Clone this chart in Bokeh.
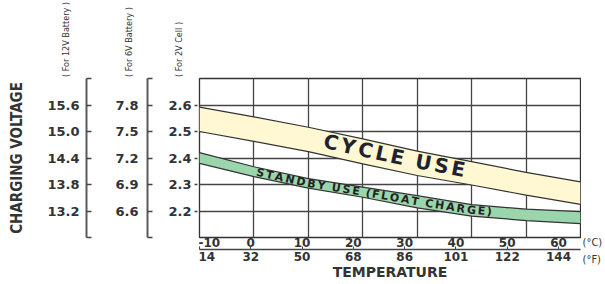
import numpy as np
from bokeh.plotting import figure
from bokeh.models import (Range1d, LinearAxis, FixedTicker, PrintfTickFormatter,
                          Grid, Label)
from bokeh.layouts import row, column
from bokeh.embed import file_html
from bokeh.resources import INLINE
from bokeh.core.properties import value

# ---------------- data ----------------
temps_c = [-10, 0, 10, 20, 30, 40, 50, 60]
temps_c_labels = ["-10", "0", "10", "20", "30", "40", "50", "60"]
temps_f_labels = ["14", "32", "50", "68", "86", "101", "122", "144"]
cycle_upper = [2.592, 2.555, 2.516, 2.472, 2.426, 2.386, 2.346, 2.310]
cycle_lower = [2.500, 2.463, 2.424, 2.378, 2.334, 2.298, 2.260, 2.225]
standby_upper = [2.420, 2.367, 2.322, 2.290, 2.258, 2.224, 2.207, 2.198]
standby_lower = [2.380, 2.330, 2.286, 2.252, 2.212, 2.181, 2.164, 2.152]
volt_2v_ticks = [2.2, 2.3, 2.4, 2.5, 2.6]
volt_6v_ticks = [6.3, 6.6, 6.9, 7.2, 7.5, 7.8, 8.1]
volt_12v_ticks = [12.6, 13.2, 13.8, 14.4, 15.0, 15.6, 16.2]
cycle_text = "CYCLE USE"
standby_text = "STANDBY USE (FLOAT CHARGE)"
side_titles = ["( For 12V Battery )", "( For 6V Battery )", "( For 2V Cell )"]

# ---------------- layout ----------------
H = 284
TOP_H = 77                      # height of the strip holding the side titles
FRAME_TOP, FRAME_H = 78, 159
BOTTOM = H - FRAME_TOP - FRAME_H
SIDE_H = H - TOP_H
NUM_FONT = "DejaVu Sans"
NARROW = "DejaVu Sans Condensed"
TXT = "#333333"
COMMON = dict(toolbar_location=None, output_backend="svg",
              background_fill_color="white", border_fill_color="white")


def side_fig(width, left, yr):
    f = figure(width=width, height=SIDE_H, x_range=Range1d(0, width - left), y_range=yr,
               x_axis_type=None, y_axis_type=None, min_border_left=left,
               min_border_right=0, min_border_top=FRAME_TOP - TOP_H,
               min_border_bottom=BOTTOM, **COMMON)
    f.outline_line_color = None
    return f


def num_axis(ticks, **kw):
    base = dict(ticker=FixedTicker(ticks=ticks),
                formatter=PrintfTickFormatter(format="%.1f"),
                minor_tick_line_color=None, major_tick_line_color="#444444",
                major_tick_line_width=1.5, major_label_text_font=NUM_FONT,
                major_label_text_font_style="bold", major_label_text_font_size="13px",
                major_label_text_color=TXT)
    base.update(kw)
    return LinearAxis(**base)


# 12V axis
f1 = side_fig(97, 86, Range1d(volt_12v_ticks[0], volt_12v_ticks[-1]))
f1.add_layout(num_axis(volt_12v_ticks,
                       major_label_overrides={volt_12v_ticks[0]: "", volt_12v_ticks[-1]: ""},
                       axis_line_width=2, axis_line_color="#5a5a5a", major_tick_in=5,
                       major_tick_out=0, major_label_standoff=7,
                       axis_label="CHARGING VOLTAGE", axis_label_text_font=NARROW,
                       axis_label_text_font_style="bold", axis_label_text_font_size="15px",
                       axis_label_standoff=18, axis_label_text_color=TXT), "left")

# 6V axis
f2 = side_fig(60, 50, Range1d(volt_6v_ticks[0], volt_6v_ticks[-1]))
f2.add_layout(num_axis(volt_6v_ticks,
                       major_label_overrides={volt_6v_ticks[0]: "", volt_6v_ticks[-1]: ""},
                       axis_line_width=2, axis_line_color="#5a5a5a", major_tick_in=5,
                       major_tick_out=0, major_label_standoff=9), "left")

# 2V axis (its line is the chart frame's left edge)
f3 = side_fig(41, 40, Range1d(2.1, 2.7))
f3.add_layout(num_axis(volt_2v_ticks, axis_line_color=None, major_tick_out=3,
                       major_tick_in=0, major_label_standoff=3), "left")

# side titles strip
ft = figure(width=198, height=TOP_H, x_range=Range1d(0, 198), y_range=Range1d(0, TOP_H),
            x_axis_type=None, y_axis_type=None, min_border=0, **COMMON)
ft.outline_line_color = None
ft.frame_align = False
for txt, cx in zip(side_titles, [65, 128, 178]):
    ft.add_layout(Label(x=cx, y=0.5, text=txt, angle=np.pi / 2, text_align="left",
                        text_baseline="middle", text_font=NARROW, text_font_size="9px",
                        text_color=TXT))

# main chart
W_FRAME = 381
p = figure(width=W_FRAME + 2, height=H, x_range=Range1d(-10, 60), y_range=Range1d(2.1, 2.7),
           x_axis_type=None, y_axis_type=None, min_border_left=1, min_border_right=1,
           min_border_top=FRAME_TOP, min_border_bottom=BOTTOM, **COMMON)
p.outline_line_color = "#333333"
p.outline_line_width = 1.3
p.extra_x_ranges = {"lbl": Range1d(-10, 64.29)}

p.add_layout(Grid(dimension=0, ticker=FixedTicker(ticks=temps_c),
                  grid_line_color="#444444", grid_line_width=1.3))
p.add_layout(Grid(dimension=1, ticker=FixedTicker(ticks=volt_2v_ticks),
                  grid_line_color="#444444", grid_line_width=1.3))

lbl_style = dict(major_label_text_font=NUM_FONT, major_label_text_font_style="bold",
                 major_label_text_font_size="12px", major_label_text_color=TXT,
                 minor_tick_line_color=None)
axc = LinearAxis(x_range_name="lbl", ticker=FixedTicker(ticks=temps_c),
                 major_label_overrides=dict(zip(temps_c, temps_c_labels)),
                 axis_line_color=None, major_tick_line_color=None, major_tick_in=0,
                 major_tick_out=0, major_label_standoff=0, **lbl_style)
axf = LinearAxis(x_range_name="lbl", ticker=FixedTicker(ticks=temps_c),
                 major_label_overrides=dict(zip(temps_c, temps_f_labels)),
                 axis_line_color="#444444", axis_line_width=1.5, major_tick_in=3,
                 major_tick_out=0, major_tick_line_color="#444444", major_label_standoff=2,
                 axis_label="TEMPERATURE", axis_label_standoff=0,
                 axis_label_text_font=NUM_FONT, axis_label_text_font_style="bold",
                 axis_label_text_font_size="14px", axis_label_text_color=TXT, **lbl_style)
p.add_layout(axc, "below")
p.add_layout(axf, "below")

# bands
p.varea(x=temps_c, y1=cycle_lower, y2=cycle_upper, fill_color="#fff8d2")
p.line(temps_c, cycle_upper, line_color="#333333", line_width=1.2)
p.line(temps_c, cycle_lower, line_color="#333333", line_width=1.2)
p.varea(x=temps_c, y1=standby_lower, y2=standby_upper, fill_color="#9bd5ac")
p.line(temps_c, standby_upper, line_color="#333333", line_width=1.2)
p.line(temps_c, standby_lower, line_color="#333333", line_width=1.2)

# text that follows the bands
PX_X = W_FRAME / 70.0
PX_Y = FRAME_H / 0.6
CHAR_W = {"S": .72, "T": .682, "A": .774, "N": .837, "D": .83, "B": .762, "Y": .724,
          " ": .348, "U": .812, "E": .683, "(": .457, ")": .457, "F": .683, "L": .637,
          "O": .85, "C": .734, "H": .837, "R": .77, "G": .821}


def along(text, upper, lower, x0, x1, shift, size, color):
    center = (np.array(upper) + np.array(lower)) / 2.0
    xs = np.linspace(-10, 60, 1401)
    yc = np.interp(xs, temps_c, center)
    sx, sy = xs * PX_X, yc * PX_Y
    s = np.concatenate([[0], np.cumsum(np.hypot(np.diff(sx), np.diff(sy)))])
    slope = np.gradient(sy, sx)
    s0, s1 = np.interp(x0, xs, s), np.interp(x1, xs, s)
    w = np.array([CHAR_W.get(c, .7) for c in text])
    pos = s0 + (np.cumsum(w) - w / 2) / w.sum() * (s1 - s0)
    cx = np.interp(pos, s, xs)
    cy = np.interp(cx, xs, yc) + shift
    ang = np.arctan(np.interp(cx, xs, slope))
    p.text(x=cx, y=cy, text=list(text), angle=ang, text_align="center",
           text_baseline="middle", text_font=value(NUM_FONT), text_font_style="bold",
           text_font_size=value(size), text_color=color)


along(cycle_text, cycle_upper, cycle_lower, 12.6, 39.05, 0.008, "20px", "#1f2230")
along(standby_text, standby_upper, standby_lower, 0.3, 43.8, 0.0, "11px", "#222222")

# unit marks right of the temperature scales
fr = figure(width=605 - 198 - (W_FRAME + 2), height=H, x_range=Range1d(0, 22),
            y_range=Range1d(0, H), x_axis_type=None, y_axis_type=None, min_border=0,
            **COMMON)
fr.outline_line_color = None
fr.frame_align = False
for t, yy in (("(°C)", H - 242), ("(°F)", H - 259)):
    fr.add_layout(Label(x=1, y=yy, text=t, text_align="left", text_baseline="middle",
                        text_font=NARROW, text_font_size="11px", text_color=TXT))

layout = row(column(ft, row(f1, f2, f3)), p, fr)
open("out.html", "w").write(file_html(layout, INLINE))
